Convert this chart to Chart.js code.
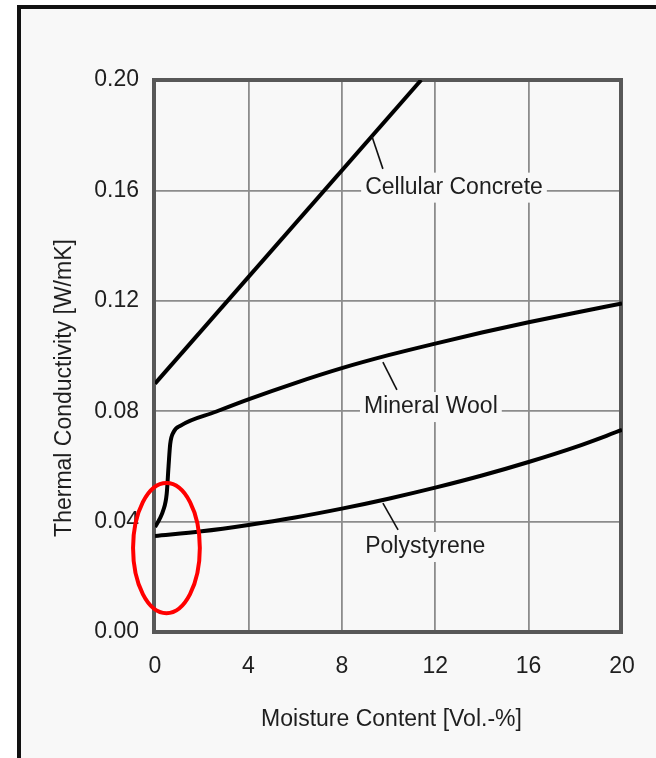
<!DOCTYPE html>
<html>
<head>
<meta charset="utf-8">
<script src="https://cdn.jsdelivr.net/npm/chart.js@4.4.1/dist/chart.umd.min.js"></script>
<style>
    html, body { margin: 0; padding: 0; background: #fff; }
    body { width: 656px; height: 758px; position: relative; overflow: hidden; }
    .frame {
        position: absolute; left: 17px; top: 5px; width: 660px; height: 780px;
        border-left: 4px solid #111; border-top: 4px solid #111;
        background: #f8f8f8;
    }
    #chart { position: absolute; left: 0; top: 0; }
</style>
</head>
<body>
<div class="frame"></div>
<canvas id="chart" width="656" height="758"></canvas>
<script>
// Thermal conductivity vs. moisture content

const xTitle = 'Moisture Content [Vol.-%]';
const yTitle = 'Thermal Conductivity [W/mK]';

// Cellular concrete (straight line, leaves the plot at the top)
const concreteX = [0, 11.4];
const concreteY = [0.090, 0.200];

// Mineral wool
const woolX = [0, 0.2, 0.35, 0.5, 0.58, 0.65, 0.8, 1.1, 2.6, 4, 6, 8, 10, 12, 14, 16, 18, 20];
const woolY = [0.038, 0.041, 0.044, 0.050, 0.060, 0.068, 0.0725, 0.0748, 0.0798, 0.0843,
               0.0902, 0.0956, 0.1003, 0.1045, 0.1085, 0.1122, 0.1157, 0.119];

// Polystyrene
const polyX = [0, 2, 4, 6, 8, 10, 12, 14, 16, 18, 20];
const polyY = [0.0348, 0.0365, 0.0388, 0.0415, 0.0447, 0.0483, 0.0523, 0.0567, 0.0616, 0.0670, 0.0732];

// Curve labels: text anchor and leader line (data units)
const labelNames = ['Cellular Concrete', 'Mineral Wool', 'Polystyrene'];
const labelAt = [[9.0, 0.161], [8.95, 0.0815], [9.0, 0.0308]];
const leaderFrom = [[9.29, 0.1796], [9.76, 0.0978], [9.76, 0.0467]];
const leaderTo = [[9.76, 0.1678], [10.36, 0.0877], [10.41, 0.0370]];

// Red highlight ellipse (centre and radii in data units)
const ringCentre = [0.49, 0.0304];
const ringRadius = [1.43, 0.0236];

const FONT = "'Liberation Sans', Arial, Helvetica, sans-serif";
const TEXT = '#1e1e1e';
const toPoints = (xs, ys) => xs.map((x, i) => ({ x: x, y: ys[i] }));

const decorations = {
    id: 'decorations',
    beforeDatasetsDraw(chart) {
        const { ctx, chartArea: a, scales: { x, y } } = chart;
        ctx.save();
        // label patches that break the grid, then the frame
        ctx.font = '23px ' + FONT;
        ctx.fillStyle = '#f8f8f8';
        labelNames.forEach((name, i) => {
            const w = ctx.measureText(name).width;
            const px = x.getPixelForValue(labelAt[i][0]);
            const py = y.getPixelForValue(labelAt[i][1]);
            ctx.fillRect(px - 4, py - 15, w + 8, 30);
        });
        ctx.strokeStyle = '#585858';
        ctx.lineWidth = 4;
        ctx.strokeRect(a.left - 1, a.top, a.right - a.left, a.bottom - a.top);
        ctx.restore();
    },
    afterDatasetsDraw(chart) {
        const { ctx, chartArea: a, scales: { x, y } } = chart;
        ctx.save();
        ctx.font = '23px ' + FONT;
        ctx.fillStyle = TEXT;
        ctx.textBaseline = 'middle';
        labelNames.forEach((name, i) => {
            ctx.fillText(name, x.getPixelForValue(labelAt[i][0]), y.getPixelForValue(labelAt[i][1]));
            ctx.beginPath();
            ctx.moveTo(x.getPixelForValue(leaderFrom[i][0]), y.getPixelForValue(leaderFrom[i][1]));
            ctx.lineTo(x.getPixelForValue(leaderTo[i][0]), y.getPixelForValue(leaderTo[i][1]));
            ctx.strokeStyle = '#111';
            ctx.lineWidth = 1.6;
            ctx.stroke();
        });

        // axis titles
        ctx.textAlign = 'center';
        ctx.fillText(xTitle, (a.left + a.right) / 2 + 3, a.bottom + 88);
        ctx.translate(65, (a.top + a.bottom) / 2 + 32);
        ctx.rotate(-Math.PI / 2);
        ctx.fillText(yTitle, 0, 0);
        ctx.setTransform(1, 0, 0, 1, 0, 0);

        // highlight ellipse
        const cx = x.getPixelForValue(ringCentre[0]);
        const cy = y.getPixelForValue(ringCentre[1]);
        const rx = x.getPixelForValue(ringCentre[0] + ringRadius[0]) - cx;
        const ry = cy - y.getPixelForValue(ringCentre[1] + ringRadius[1]);
        ctx.beginPath();
        ctx.ellipse(cx, cy, rx, ry, 0, 0, Math.PI * 2);
        ctx.strokeStyle = '#ff0000';
        ctx.lineWidth = 4;
        ctx.stroke();
        ctx.restore();
    }
};

const lineStyle = {
    borderColor: '#000',
    borderWidth: 4,
    pointRadius: 0,
    fill: false,
    cubicInterpolationMode: 'monotone'
};

new Chart(document.getElementById('chart'), {
    type: 'line',
    data: {
        datasets: [
            { label: 'Cellular Concrete', data: toPoints(concreteX, concreteY), ...lineStyle },
            { label: 'Mineral Wool', data: toPoints(woolX, woolY), ...lineStyle },
            { label: 'Polystyrene', data: toPoints(polyX, polyY), ...lineStyle }
        ]
    },
    options: {
        responsive: false,
        animation: false,
        layout: { padding: { top: 80, right: 34, bottom: 0, left: 0 } },
        plugins: { legend: { display: false }, tooltip: { enabled: false } },
        scales: {
            x: {
                type: 'linear',
                min: 0, max: 20,
                afterFit: (s) => { s.height = 126; },
                ticks: { stepSize: 4, color: TEXT, padding: 21, font: { family: FONT, size: 23 } },
                grid: { color: '#8c8c8c', lineWidth: 1.8, drawTicks: false },
                border: { display: false }
            },
            y: {
                min: 0, max: 0.2,
                afterFit: (s) => { s.width = 155; },
                ticks: {
                    stepSize: 0.04, color: TEXT, padding: 16,
                    font: { family: FONT, size: 23 },
                    callback: (v) => v.toFixed(2)
                },
                grid: { color: '#8c8c8c', lineWidth: 1.8, drawTicks: false },
                border: { display: false }
            }
        }
    },
    plugins: [decorations]
});
</script>
</body>
</html>
